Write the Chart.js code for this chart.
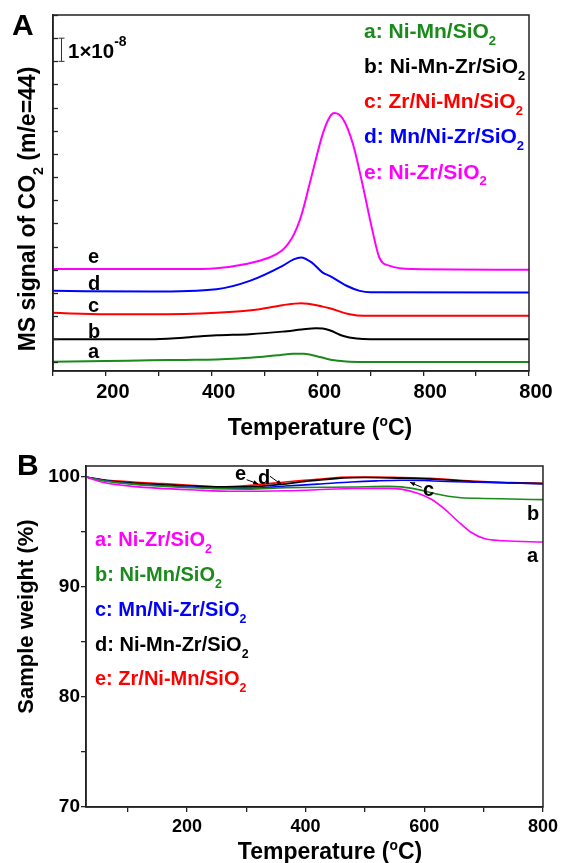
<!DOCTYPE html>
<html><head><meta charset="utf-8">
<script src="https://cdn.jsdelivr.net/npm/chart.js@4.4.1/dist/chart.umd.min.js"></script>
<style>
html,body{margin:0;padding:0;background:#fff;}
#wrap{position:relative;width:562px;height:863px;overflow:hidden;background:#fff;}
#cA{position:absolute;left:0;top:0;}
#cB{position:absolute;left:0;top:440px;}
</style></head><body>
<div id="wrap">
<canvas id="cA" width="562" height="450"></canvas>
<canvas id="cB" width="562" height="423"></canvas>
</div>
<script>
// ---------- Panel A data: MS signal of CO2 (units of 1e-8, offset curves) ----------
const tempA_a = [100,200,283,350,409,450,491,530,553,575,597,623,645,661,700,1000];
const signalA_a = [0.03,0.06,0.09,0.11,0.13,0.17,0.23,0.32,0.38,0.37,0.28,0.13,0.06,0.03,0.02,0.02];
const tempA_b = [100,283,346,409,472,534,570,597,610,623,649,674,700,1000];
const signalA_b = [1.0,1.0,1.07,1.17,1.22,1.33,1.42,1.48,1.46,1.39,1.14,1.03,1.0,1.0];
const tempA_c = [100,200,283,409,491,534,569,610,623,661,687,1000];
const signalA_c = [2.14,2.08,2.08,2.15,2.30,2.47,2.56,2.41,2.34,2.08,2.01,2.01];
const tempA_d = [100,283,409,472,534,555,569,590,610,623,655,680,700,1000];
const signalA_d = [3.09,3.06,3.16,3.52,4.17,4.45,4.53,4.30,3.88,3.74,3.31,3.09,3.03,3.02];
const tempA_e = [100,340,409,465,509,534,547,556,566,574,582,598,610,623,632,648,667,685,704,717,737,781,1000];
const signalA_e = [4.03,4.03,4.07,4.25,4.53,4.85,5.2,5.55,6.1,6.7,7.42,8.86,9.87,10.59,10.77,10.52,9.44,7.71,5.69,4.53,4.17,4.03,4.0];

const seriesNamesA = ['a: Ni-Mn/SiO','b: Ni-Mn-Zr/SiO','c: Zr/Ni-Mn/SiO','d: Mn/Ni-Zr/SiO','e: Ni-Zr/SiO'];
const curveLettersA = ['a','b','c','d','e'];

const xTicksA = [100,200,300,400,500,600,700,800,900,1000];
const xMajorA = [200,400,600,800,1000];
const xMajorLabelsA = ['200','400','600','800','800'];
const yTicksA = [0,1,2,3,4,5,6,7,8,9,10,11,12,13,14,15];

// ---------- Panel B data: TGA sample weight (%) ----------
const tempB_a = [30,60,109,221,280,366,477,540,561,590,611,634,656,678,701,734,800];
const weightB_a = [100,99.5,99.15,98.8,98.7,98.75,98.95,98.97,98.9,98.5,98.0,97.1,96.0,95.0,94.4,94.2,94.09];
const tempB_b = [30,60,109,221,300,366,477,540,561,590,617,640,662,700,746,800];
const weightB_b = [100,99.65,99.35,99.0,98.9,99.03,99.09,99.15,99.1,98.85,98.5,98.25,98.12,98.05,98.0,97.94];
const tempB_c = [30,60,109,221,254,300,366,420,477,520,561,600,617,690,746,800];
const weightB_c = [100,99.7,99.36,99.05,98.95,98.95,99.18,99.35,99.55,99.65,99.7,99.68,99.63,99.52,99.45,99.38];
const tempB_d = [30,60,109,160,221,280,320,358,400,450,500,560,617,690,746,800];
const weightB_d = [100,99.7,99.45,99.3,99.15,99.1,99.15,99.33,99.6,99.85,99.95,99.9,99.8,99.57,99.47,99.4];
const tempB_e = [30,60,109,160,221,254,318,366,420,477,520,561,617,690,746,800];
const weightB_e = [100,99.75,99.55,99.4,99.2,99.1,99.3,99.55,99.8,100.0,100.0,99.94,99.85,99.6,99.5,99.42];

const seriesNamesB = ['a: Ni-Zr/SiO','b: Ni-Mn/SiO','c: Mn/Ni-Zr/SiO','d: Ni-Mn-Zr/SiO','e: Zr/Ni-Mn/SiO'];

const xTicksB = [100,200,300,400,500,600,700,800];
const xMajorB = [200,400,600,800];
const xMajorLabelsB = ['200','400','600','800'];
const yTicksB = [70,75,80,85,90,95,100];
const yMajorB = [70,80,90,100];

// ---------- styling ----------
const FAM = '"Liberation Sans", Arial, Helvetica, sans-serif';
const GREEN = '#1a8a1a', BLACK = '#000000', RED = '#ff0000', BLUE = '#0000ff', MAGENTA = '#ff00ff';
const AXIS = '#222222';
Chart.defaults.font.family = FAM;

function pts(xs, ys){ return xs.map((x,i)=>({x:x, y:ys[i]})); }

function partsSub(txt){ return [{t:txt},{t:'2',s:0.62,dy:0.33}]; }
function drawRich(ctx, parts, x, y, size, color, align){
  let w = 0;
  parts.forEach(p=>{ ctx.font = 'bold '+(size*(p.s||1))+'px '+FAM; w += ctx.measureText(p.t).width; });
  let cx = align==='center' ? x - w/2 : x;
  ctx.textAlign = 'left'; ctx.textBaseline = 'alphabetic'; ctx.fillStyle = color;
  parts.forEach(p=>{
    ctx.font = 'bold '+(size*(p.s||1))+'px '+FAM;
    ctx.fillText(p.t, cx, y + (p.dy||0)*size);
    cx += ctx.measureText(p.t).width;
  });
}
function drawRotated(ctx, parts, cx, cy, size, color){
  ctx.save(); ctx.translate(cx, cy); ctx.rotate(-Math.PI/2);
  drawRich(ctx, parts, 0, 0.36*size, size, color, 'center');
  ctx.restore();
}
function arrow(ctx, x1,y1,x2,y2){
  ctx.save(); ctx.strokeStyle='#000'; ctx.fillStyle='#000'; ctx.lineWidth=1;
  ctx.beginPath(); ctx.moveTo(x1,y1); ctx.lineTo(x2,y2); ctx.stroke();
  const a = Math.atan2(y2-y1, x2-x1), L=5, W=2.2;
  ctx.beginPath(); ctx.moveTo(x2,y2);
  ctx.lineTo(x2 - L*Math.cos(a) + W*Math.sin(a), y2 - L*Math.sin(a) - W*Math.cos(a));
  ctx.lineTo(x2 - L*Math.cos(a) - W*Math.sin(a), y2 - L*Math.sin(a) + W*Math.cos(a));
  ctx.closePath(); ctx.fill(); ctx.restore();
}

const framePlugin = {
  id:'frame',
  afterDraw(chart){
    const {ctx, chartArea:a} = chart;
    ctx.save(); ctx.strokeStyle = AXIS; ctx.lineWidth = 1.5;
    ctx.strokeRect(a.left, a.top, a.right-a.left, a.bottom-a.top);
    ctx.restore();
  }
};

function tickCb(majors, labels){
  return function(v){ const i = majors.indexOf(v); return i<0 ? '' : labels[i]; };
}

// ---------- Chart A ----------
const colorsA = [GREEN, BLACK, RED, BLUE, MAGENTA];
const annotA = {
  id:'annotA',
  afterDraw(chart){
    const ctx = chart.ctx, ys = chart.scales.y, a = chart.chartArea;
    ctx.save();
    // inward y ticks
    ctx.strokeStyle = AXIS; ctx.lineWidth = 1.3;
    yTicksA.forEach(v=>{ const py = Math.round(ys.getPixelForValue(v))+0.5; ctx.beginPath(); ctx.moveTo(a.left, py); ctx.lineTo(a.left+5, py); ctx.stroke(); });
    // scale bar 1e-8
    const y1 = ys.getPixelForValue(14), y2 = ys.getPixelForValue(13);
    ctx.strokeStyle = '#333'; ctx.lineWidth = 1;
    ctx.beginPath(); ctx.moveTo(61.5,y1); ctx.lineTo(61.5,y2);
    ctx.moveTo(58.5,y1); ctx.lineTo(64.5,y1); ctx.moveTo(58.5,y2); ctx.lineTo(64.5,y2); ctx.stroke();
    drawRich(ctx, [{t:'1\u00d710'},{t:'-8',s:0.68,dy:-0.6}], 68, 58, 20.5, '#000', 'left');
    // panel letter
    drawRich(ctx, [{t:'A'}], 12, 35, 30, '#000', 'left');
    // legend
    const legY = [37.7, 72.9, 108.1, 143.3, 178.5];
    seriesNamesA.forEach((n,i)=> drawRich(ctx, partsSub(n), 364, legY[i], 21, colorsA[i], 'left'));
    // curve letters
    const letY = [358.3, 338.3, 311.7, 290, 263];
    curveLettersA.forEach((l,i)=> drawRich(ctx, [{t:l}], 88, letY[i], 20, '#000', 'left'));
    // axis titles
    drawRich(ctx, [{t:'Temperature ('},{t:'o',s:0.6,dy:-0.38},{t:'C)'}], 320, 435, 23, '#000', 'center');
    drawRotated(ctx, [{t:'MS signal of CO'},{t:'2',s:0.62,dy:0.33},{t:' (m/e=44)'}], 27, 209, 23, '#000');
    ctx.restore();
  }
};

const dsA = [[tempA_a,signalA_a],[tempA_b,signalA_b],[tempA_c,signalA_c],[tempA_d,signalA_d],[tempA_e,signalA_e]]
  .map((d,i)=>({label:curveLettersA[i], data:pts(d[0],d[1]), borderColor:colorsA[i], borderWidth:2, pointRadius:0, fill:false, cubicInterpolationMode:'monotone'}));

new Chart(document.getElementById('cA'), {
  type:'line',
  data:{datasets:dsA},
  options:{
    responsive:false, animation:false, devicePixelRatio:1,
    layout:{padding:{top:15,right:33,left:0,bottom:0}},
    plugins:{legend:{display:false}, tooltip:{enabled:false}, title:{display:false}},
    scales:{
      x:{type:'linear', min:100, max:1000,
        afterBuildTicks:s=>{ s.ticks = xTicksA.map(v=>({value:v})); },
        afterFit:s=>{ s.height = 79; },
        ticks:{autoSkip:false, maxRotation:0, minRotation:0, padding:4, labelOffset:7, color:'#000',
          font:{family:FAM, size:20, weight:'bold'}, callback:tickCb(xMajorA, xMajorLabelsA)},
        grid:{drawOnChartArea:false, drawTicks:true, tickLength:5, color:AXIS, lineWidth:1.3},
        border:{display:true, color:AXIS, width:1.5}},
      y:{type:'linear', min:-0.37, max:15,
        afterBuildTicks:s=>{ s.ticks = yTicksA.map(v=>({value:v})); },
        afterFit:s=>{ s.width = 53; },
        ticks:{display:false},
        grid:{display:false, drawTicks:false},
        border:{display:true, color:AXIS, width:1.5}}
    }
  },
  plugins:[framePlugin, annotA]
});

// ---------- Chart B ----------
const colorsB = [MAGENTA, GREEN, BLUE, BLACK, RED];
const annotB = {
  id:'annotB',
  afterDraw(chart){
    const ctx = chart.ctx;
    ctx.save();
    drawRich(ctx, [{t:'B'}], 17, 35, 30, '#000', 'left');
    const legY = [106, 141, 176, 211, 245];
    seriesNamesB.forEach((n,i)=> drawRich(ctx, partsSub(n), 95, legY[i], 20, colorsB[i], 'left'));
    // curve letters with arrows
    drawRich(ctx, [{t:'e'}], 235, 40, 20, '#000', 'left');
    arrow(ctx, 246.7, 39.7, 258.3, 44);
    drawRich(ctx, [{t:'d'}], 258, 44, 20, '#000', 'left');
    arrow(ctx, 270, 36.3, 281.7, 44.7);
    drawRich(ctx, [{t:'c'}], 423, 56, 20, '#000', 'left');
    arrow(ctx, 421.7, 47.3, 410, 42.3);
    drawRich(ctx, [{t:'b'}], 527, 80, 20, '#000', 'left');
    drawRich(ctx, [{t:'a'}], 527, 121.7, 20, '#000', 'left');
    // axis titles
    drawRich(ctx, [{t:'Temperature ('},{t:'o',s:0.6,dy:-0.38},{t:'C)'}], 330, 419, 23, '#000', 'center');
    drawRotated(ctx, [{t:'Sample weight (%)'}], 25, 176.5, 22, '#000');
    ctx.restore();
  }
};

const dsB = [[tempB_a,weightB_a],[tempB_b,weightB_b],[tempB_c,weightB_c],[tempB_d,weightB_d],[tempB_e,weightB_e]]
  .map((d,i)=>({label:['a','b','c','d','e'][i], data:pts(d[0],d[1]), borderColor:colorsB[i], borderWidth:1.6, pointRadius:0, fill:false, cubicInterpolationMode:'monotone'}));

new Chart(document.getElementById('cB'), {
  type:'line',
  data:{datasets:dsB},
  options:{
    responsive:false, animation:false, devicePixelRatio:1,
    layout:{padding:{top:26,right:16,left:0,bottom:0}},
    plugins:{legend:{display:false}, tooltip:{enabled:false}, title:{display:false}},
    scales:{
      x:{type:'linear', min:30, max:800,
        afterBuildTicks:s=>{ s.ticks = xTicksB.map(v=>({value:v})); },
        afterFit:s=>{ s.height = 56; },
        ticks:{autoSkip:false, maxRotation:0, minRotation:0, padding:4, color:'#000',
          font:{family:FAM, size:18, weight:'bold'}, callback:tickCb(xMajorB, xMajorLabelsB)},
        grid:{drawOnChartArea:false, drawTicks:true, tickLength:5, color:AXIS, lineWidth:1.3},
        border:{display:true, color:AXIS, width:1.5}},
      y:{type:'linear', min:70, max:101,
        afterBuildTicks:s=>{ s.ticks = yTicksB.map(v=>({value:v})); },
        afterFit:s=>{ s.width = 86; },
        ticks:{autoSkip:false, padding:1, color:'#000',
          font:{family:FAM, size:19, weight:'bold'}, callback:tickCb(yMajorB, yMajorB.map(String))},
        grid:{drawOnChartArea:false, drawTicks:true, tickLength:5, color:AXIS, lineWidth:1.3},
        border:{display:true, color:AXIS, width:1.5}}
    }
  },
  plugins:[framePlugin, annotB]
});
</script>
</body></html>
